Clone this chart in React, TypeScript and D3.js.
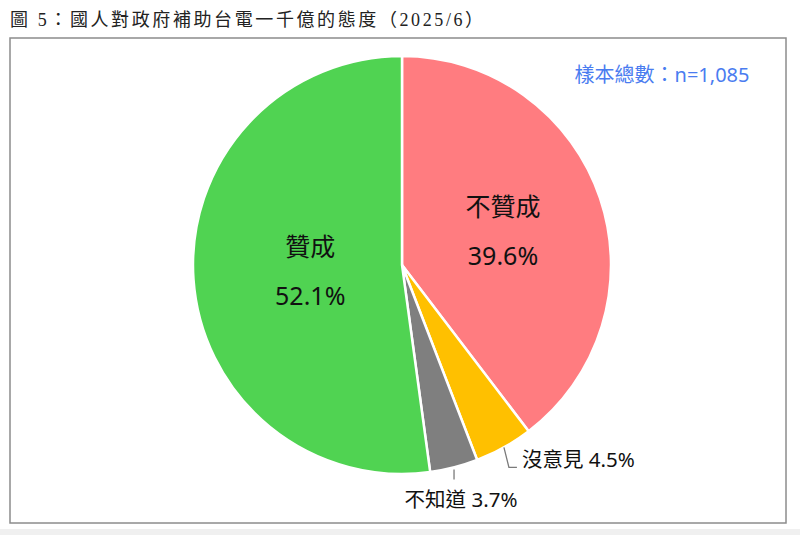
import * as d3 from "d3";

const width = 800;
const height = 535;

const title = "圖 5：國人對政府補助台電一千億的態度（2025/6）";
const sampleNote = "樣本總數：n=1,085";

const categories = ["不贊成", "沒意見", "不知道", "贊成"];
const values = [39.6, 4.5, 3.7, 52.1];
const colors = ["#FF7C80", "#FFC000", "#7F7F7F", "#50D352"];

interface Slice {
  name: string;
  value: number;
  color: string;
}

const slices: Slice[] = categories.map((name, i) => ({
  name,
  value: values[i],
  color: colors[i],
}));

const cx = 402;
const cy = 265;
const radius = 209;

const cjk = "'Noto Sans', 'Noto Sans CJK TC', sans-serif";

// inner labels for the two big slices, callouts for the small ones
const insideRadius: Record<string, number> = { 不贊成: 0.51, 贊成: 0.44 };
const callout: Record<string, { dx: number; dy: number; tx: number; ty: number; anchor: string }> = {
  沒意見: { dx: 5, dy: 20, tx: 18, ty: 20, anchor: "start" },
  不知道: { dx: 0, dy: 12, tx: 7, ty: 40, anchor: "middle" },
};

const App = () => {
  const pie = d3
    .pie<Slice>()
    .sort(null)
    .value((d) => d.value);
  const arcs = pie(slices);

  const arc = d3.arc<d3.PieArcDatum<Slice>>().innerRadius(0).outerRadius(radius);

  const pointAt = (a: d3.PieArcDatum<Slice>, r: number) => {
    const mid = (a.startAngle + a.endAngle) / 2;
    return [Math.sin(mid) * r, -Math.cos(mid) * r];
  };

  return (
    <svg
      width={width}
      height={height}
      viewBox={`0 0 ${width} ${height}`}
      style={{ position: "absolute", left: 0, top: 0, background: "#fff" }}
    >
      <rect x={0} y={529} width={width} height={6} fill="#f0f0f0" />
      <text
        x={10}
        y={26}
        fontFamily="'Liberation Serif', 'Noto Sans CJK TC', serif"
        fontSize={18}
        letterSpacing={2.6}
        fill="#222"
      >
        {title}
      </text>
      <rect x={10} y={38} width={776} height={485} fill="#fff" stroke="#8c8c8c" strokeWidth={1.5} />
      <text x={662} y={82} textAnchor="middle" fontFamily={cjk} fontSize={20} fill="#4a7cf0">
        {sampleNote}
      </text>

      <g transform={`translate(${cx},${cy})`}>
        {arcs.map((a) => (
          <path key={a.data.name} d={arc(a) as string} fill={a.data.color} stroke="#fff" strokeWidth={2.5} />
        ))}

        {arcs
          .filter((a) => insideRadius[a.data.name] !== undefined)
          .map((a) => {
            const [x, y] = pointAt(a, radius * insideRadius[a.data.name]);
            return (
              <g key={a.data.name} fontFamily={cjk} fontSize={25} fill="#111" textAnchor="middle">
                <text x={x} y={y - 15}>
                  {a.data.name}
                </text>
                <text x={x} y={y + 34}>
                  {`${a.data.value.toFixed(1)}%`}
                </text>
              </g>
            );
          })}

        {arcs
          .filter((a) => callout[a.data.name] !== undefined)
          .map((a) => {
            const c = callout[a.data.name];
            const [x, y] = pointAt(a, radius);
            const path =
              a.data.name === "沒意見"
                ? `M${x},${y}L${x + c.dx},${y + c.dy}L${x + c.tx - 5},${y + c.dy}`
                : `M${x},${y + 2}L${x},${y + c.dy}`;
            return (
              <g key={a.data.name}>
                <path d={path} fill="none" stroke="#7a7a7a" strokeWidth={1.3} />
                <text
                  x={x + c.tx}
                  y={y + c.ty}
                  textAnchor={c.anchor}
                  fontFamily={cjk}
                  fontSize={20.5}
                  fill="#111"
                >
                  {`${a.data.name} ${a.data.value.toFixed(1)}%`}
                </text>
              </g>
            );
          })}
      </g>
    </svg>
  );
};

export default App;
